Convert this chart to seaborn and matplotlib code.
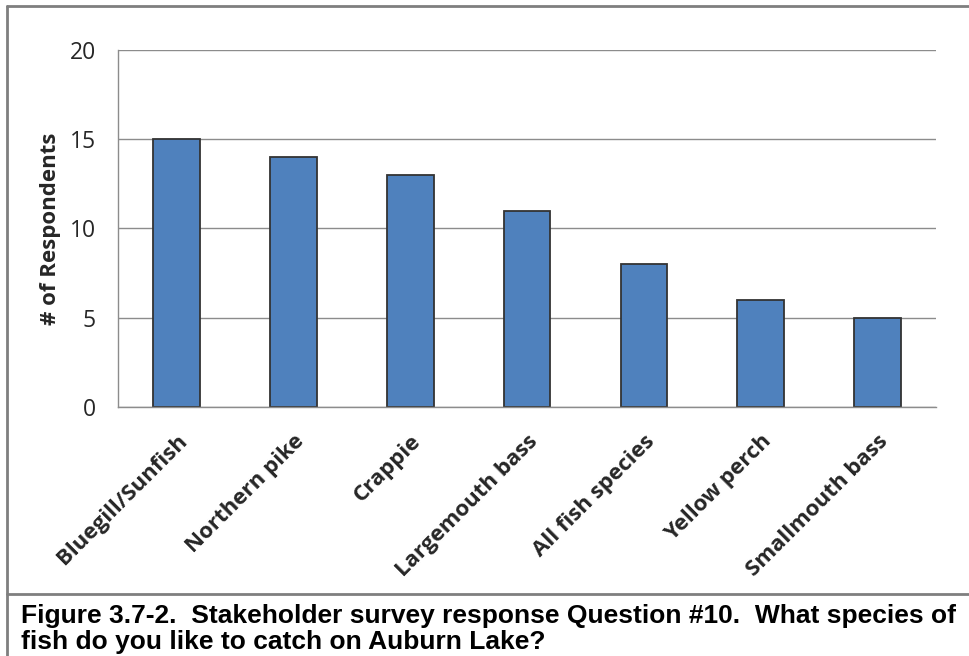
import seaborn as sns
import matplotlib.pyplot as plt
import pandas as pd
import numpy as np
from matplotlib.lines import Line2D

# Survey data
species = ['Bluegill/Sunfish', 'Northern pike', 'Crappie', 'Largemouth bass',
           'All fish species', 'Yellow perch', 'Smallmouth bass']
respondents = [15, 14, 13, 11, 8, 6, 5]
y_ticks = [0, 5, 10, 15, 20]

caption = ('Figure 3.7-2.  Stakeholder survey response Question #10.  What species of\n'
           'fish do you like to catch on Auburn Lake?')

df = pd.DataFrame({'Species': species, 'Respondents': respondents})

sns.set_style("white")
plt.rcParams['font.family'] = ['Open Sans', 'DejaVu Sans']

fig = plt.figure(figsize=(9.69, 6.56), dpi=100)
ax = fig.add_axes([0.1218, 0.3796, 0.966 - 0.1218, 0.9238 - 0.3796])

sns.barplot(data=df, x='Species', y='Respondents', color='#4F81BD',
            edgecolor='#333333', linewidth=1.3, width=0.4, saturation=1, ax=ax)

ax.set_ylim(0, 20)
ax.set_xlim(-0.5, len(species) - 0.5)
ax.set_yticks(y_ticks)
ax.set_yticklabels([str(v) for v in y_ticks], fontsize=16.5, color='#262626')
ax.yaxis.grid(True, color='#8c8c8c', linewidth=1)
ax.set_axisbelow(True)

# category labels, rotated like the original
ax.set_xticks(range(len(species)))
ax.set_xticklabels(species, rotation=45, ha='right', rotation_mode='anchor',
                   fontsize=16, fontweight='bold', color='#262626')
ax.tick_params(axis='x', which='major', length=0, pad=17)
ax.set_xticks(np.arange(-0.5, len(species)), minor=True)
ax.tick_params(axis='x', which='minor', length=6, color='#8c8c8c', width=1)
ax.tick_params(axis='y', length=6, color='#8c8c8c', width=1, pad=10)

ax.set_xlabel('')
ax.set_ylabel('# of Respondents', fontsize=16, fontweight='bold', color='#262626', labelpad=6)

for side in ['top', 'right']:
    ax.spines[side].set_visible(False)
for side in ['left', 'bottom']:
    ax.spines[side].set_color('#8c8c8c')
    ax.spines[side].set_linewidth(1)

# outer frame (left and top) and caption separator
frame_kw = dict(transform=fig.transFigure, color='#7f7f7f', linewidth=2)
fig.lines.append(Line2D([0.0072, 0.0072], [0.0, 0.991], **frame_kw))
fig.lines.append(Line2D([0.0072, 1.0], [0.991, 0.991], **frame_kw))
fig.lines.append(Line2D([0.0072, 1.0], [0.0945, 0.0945], **frame_kw))

fig.text(0.022, 0.011, caption, ha='left', va='baseline', fontsize=19, fontweight='bold',
         family=['Liberation Sans Narrow', 'Liberation Sans', 'DejaVu Sans'],
         linespacing=1.12, color='black')

fig.savefig('out.png', dpi=100)
